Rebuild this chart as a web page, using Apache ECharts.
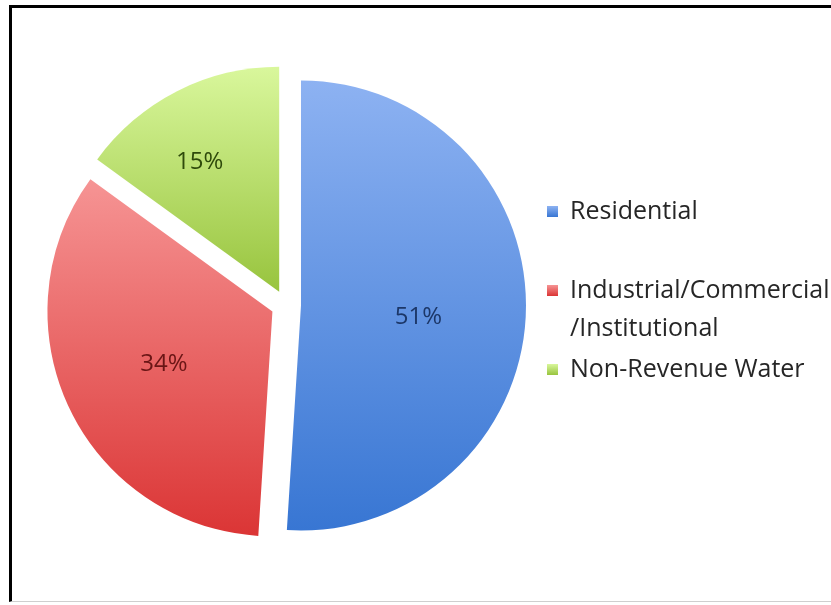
<!DOCTYPE html>
<html>
<head>
<meta charset="utf-8">
<script src="https://cdn.jsdelivr.net/npm/echarts@6/dist/echarts.min.js"></script>
<style>
  html, body { margin: 0; padding: 0; background: #ffffff; }
  #wrap { position: relative; width: 831px; height: 605px; overflow: hidden; }
  #frame {
    position: absolute; left: 9px; top: 5px; width: 900px; height: 597px;
    border-left: 3px solid #000; border-top: 3px solid #000;
    border-bottom: 1px solid #cfcfcf; box-sizing: border-box;
  }
  #chart { position: absolute; left: 0; top: 0; width: 831px; height: 605px; }
</style>
</head>
<body>
<div id="wrap">
  <div id="frame"></div>
  <div id="chart"></div>
</div>
<script>
// Water use by customer class (share of total, %)
const categories = ['Residential', 'Industrial/Commercial/Institutional', 'Non-Revenue Water'];
const legendLines = [['Residential'], ['Industrial/Commercial', '/Institutional'], ['Non-Revenue Water']];
const shares = [51, 34, 15];

// gradient stops (top, bottom) and label colour per slice
const topColors = ['#8db2f2', '#f69494', '#d9f79c'];
const bottomColors = ['#3876d3', '#db3535', '#98c43e'];
const labelColors = ['#1c3768', '#6a1515', '#2f4a0b'];
// small nudges of the percentage labels from their default inside spot
const labelShift = [[2, 8], [-4, 4], [-27, -27]];

const chart = echarts.init(document.getElementById('chart'), null, { renderer: 'canvas' });

const fontFamily = '"Open Sans", Lato, sans-serif';
const fontSize = 25;
const lineH = 38;

const pieData = categories.map((name, i) => {
  const fill = new echarts.graphic.LinearGradient(0, 0, 0, 1, [
    { offset: 0, color: topColors[i] },
    { offset: 1, color: bottomColors[i] }
  ]);
  return {
    name: name,
    value: shares[i],
    selected: true,
    itemStyle: { color: fill },
    select: { itemStyle: { color: fill } },
    label: { color: labelColors[i] }
  };
});

chart.setOption({
  animation: false,
  legend: {
    orient: 'vertical',
    left: 547,
    top: 199,
    padding: 0,
    itemGap: 16,
    itemWidth: 11,
    itemHeight: 11,
    icon: 'rect',
    selectedMode: false,
    data: categories,
    // multi-line entries get a blank leading line so the marker sits on the first line
    formatter: function (name) {
      const lines = legendLines[categories.indexOf(name)];
      const body = lines.map(l => '{t|' + l + '}').join('\n');
      return lines.length > 1 ? '{s| }\n' + body : body;
    },
    textStyle: {
      padding: [0, 0, 0, 7],
      rich: {
        t: { fontFamily: fontFamily, fontSize: fontSize, lineHeight: lineH, color: '#262626' },
        s: { fontFamily: fontFamily, fontSize: fontSize, lineHeight: lineH }
      }
    }
  },
  series: [{
    type: 'pie',
    center: [286, 305],
    radius: 225,
    startAngle: 90,
    clockwise: true,
    selectedMode: 'multiple',
    selectedOffset: 15,
    avoidLabelOverlap: false,
    emphasis: { disabled: true },
    label: {
      show: true,
      position: 'inside',
      formatter: '{c}%',
      fontFamily: fontFamily,
      fontSize: 24
    },
    labelLayout: function (params) {
      const s = labelShift[params.dataIndex];
      return { dx: s[0], dy: s[1] };
    },
    labelLine: { show: false },
    data: pieData
  }]
});
</script>
</body>
</html>
